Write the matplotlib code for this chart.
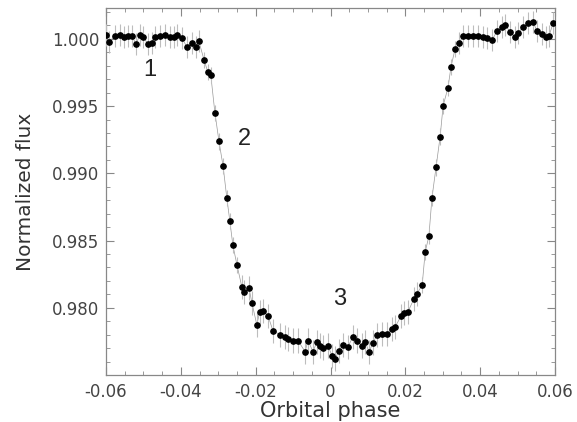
import numpy as np
import matplotlib.pyplot as plt
from matplotlib.ticker import MultipleLocator, FixedFormatter, FixedLocator

# Daten
phase = [-0.0600, -0.0592, -0.0576, -0.0563, -0.0552, -0.0541, -0.0531, -0.0520,
         -0.0509, -0.0501, -0.0488, -0.0477, -0.0469, -0.0456, -0.0443, -0.0429,
         -0.0418, -0.0410, -0.0397, -0.0384, -0.0370, -0.0360, -0.0352, -0.0338,
         -0.0328, -0.0320, -0.0309, -0.0298, -0.0287, -0.0277, -0.0269, -0.0261,
         -0.0250, -0.0237, -0.0231, -0.0218, -0.0210, -0.0197, -0.0189, -0.0181,
         -0.0167, -0.0154, -0.0135, -0.0122, -0.0114, -0.0100, -0.0087, -0.0068,
         -0.0060, -0.0047, -0.0036, -0.0028, -0.0020, -0.0007, 0.0004, 0.0012,
         0.0023, 0.0033, 0.0047, 0.0060, 0.0071, 0.0084, 0.0092, 0.0103,
         0.0114, 0.0124, 0.0138, 0.0151, 0.0164, 0.0173, 0.0189, 0.0197,
         0.0207, 0.0223, 0.0231, 0.0245, 0.0253, 0.0263, 0.0271, 0.0282,
         0.0293, 0.0301, 0.0314, 0.0322, 0.0333, 0.0344, 0.0354, 0.0368,
         0.0381, 0.0394, 0.0408, 0.0418, 0.0432, 0.0445, 0.0459, 0.0467,
         0.0480, 0.0493, 0.0501, 0.0515, 0.0528, 0.0541, 0.0552, 0.0566,
         0.0576, 0.0584, 0.0595]

flux = [1.00030, 0.99978, 1.00022, 1.00030, 1.00015, 1.00022, 1.00022, 0.99963,
        1.00030, 1.00015, 0.99963, 0.99970, 1.00015, 1.00022, 1.00030, 1.00015,
        1.00015, 1.00030, 1.00007, 0.99941, 0.99970, 0.99941, 0.99985, 0.99844,
        0.99756, 0.99733, 0.99452, 0.99237, 0.99052, 0.98815, 0.98644, 0.98467,
        0.98319, 0.98156, 0.98119, 0.98148, 0.98037, 0.97874, 0.97970, 0.97978,
        0.97941, 0.97830, 0.97800, 0.97785, 0.97770, 0.97756, 0.97756, 0.97674,
        0.97756, 0.97674, 0.97748, 0.97719, 0.97704, 0.97719, 0.97644, 0.97622,
        0.97681, 0.97726, 0.97711, 0.97785, 0.97756, 0.97719, 0.97748, 0.97674,
        0.97741, 0.97800, 0.97807, 0.97807, 0.97844, 0.97859, 0.97941, 0.97963,
        0.97970, 0.98067, 0.98104, 0.98170, 0.98415, 0.98533, 0.98815, 0.99044,
        0.99274, 0.99504, 0.99637, 0.99793, 0.99926, 0.99970, 1.00022, 1.00022,
        1.00022, 1.00022, 1.00015, 1.00007, 0.99993, 1.00059, 1.00089, 1.00104,
        1.00052, 1.00015, 1.00044, 1.00089, 1.00119, 1.00126, 1.00059, 1.00037,
        1.00015, 1.00022, 1.00119]

flux_err = [0.0008] * 23 + [0.0006] * 10 + [0.0009] * 42 + [0.0006] * 10 + [0.0008] * 22

x_ticks = [-0.06, -0.04, -0.02, 0, 0.02, 0.04, 0.06]
x_labels = ["-0.06", "-0.04", "-0.02", "0", "0.02", "0.04", "0.06"]
y_ticks = [0.980, 0.985, 0.990, 0.995, 1.000]
y_labels = ["0.980", "0.985", "0.990", "0.995", "1.000"]

notes = ["1", "2", "3"]
note_phase = [-0.0483, -0.0229, 0.0025]
note_flux = [0.99770, 0.99252, 0.98067]

plt.rcParams['font.family'] = ['DejaVu Sans']

fig = plt.figure(figsize=(5.77, 4.22), dpi=100)
ax = fig.add_axes([0.1837, 0.1114, 0.7782, 0.8696])

ax.errorbar(phase, flux, yerr=flux_err, fmt='o', color='black', markersize=3.8,
            ecolor='#bdbdbd', elinewidth=0.8, capsize=0, zorder=3)
ax.plot(phase, flux, color='#999999', linewidth=0.5, zorder=2)

for t, px, fy in zip(notes, note_phase, note_flux):
    ax.text(px, fy, t, fontsize=17, color='#222222', ha='center', va='center',
            family='Liberation Sans')

ax.set_xlim(-0.06, 0.06)
ax.set_ylim(0.9750, 1.0023)
ax.xaxis.set_major_locator(FixedLocator(x_ticks))
ax.xaxis.set_major_formatter(FixedFormatter(x_labels))
ax.yaxis.set_major_locator(FixedLocator(y_ticks))
ax.yaxis.set_major_formatter(FixedFormatter(y_labels))
ax.xaxis.set_minor_locator(MultipleLocator(0.005))
ax.yaxis.set_minor_locator(MultipleLocator(0.001))

ax.tick_params(which='both', direction='in', top=True, right=True, color='#888888',
               labelsize=12, labelcolor='#444444')
ax.tick_params(which='major', length=6, width=0.8)
ax.tick_params(which='minor', length=3, width=0.6)
ax.tick_params(axis='x', pad=6)
ax.tick_params(axis='y', pad=5)
for sp in ax.spines.values():
    sp.set_color('#888888')
    sp.set_linewidth(0.9)

ax.set_xlabel("Orbital phase", fontsize=15, color='#333333', labelpad=0)
ax.set_ylabel("Normalized flux", fontsize=14.5, color='#333333', labelpad=12)

plt.savefig("out.png", dpi=100)
